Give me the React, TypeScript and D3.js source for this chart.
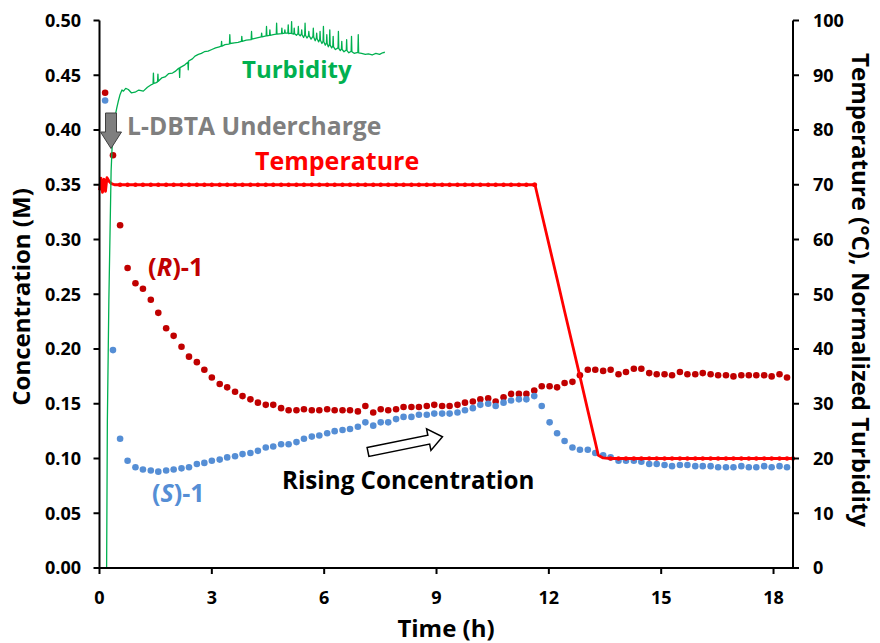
import React from "react";
import * as d3 from "d3";

// ---------- data ----------
const sampleTimes = [
  0.15, 0.36, 0.55, 0.75, 0.96, 1.16, 1.37, 1.57, 1.78, 1.98, 2.19, 2.39, 2.6, 2.8, 3.0, 3.21, 3.41, 3.62,
  3.82, 4.03, 4.23, 4.44, 4.64, 4.85, 5.05, 5.26, 5.46, 5.67, 5.87, 6.08, 6.28, 6.49, 6.69, 6.9, 7.1, 7.31,
  7.51, 7.71, 7.92, 8.12, 8.33, 8.53, 8.74, 8.94, 9.15, 9.35, 9.56, 9.76, 9.97, 10.17, 10.38, 10.58, 10.79,
  10.99, 11.2, 11.4, 11.61, 11.81, 12.02, 12.22, 12.42, 12.63, 12.83, 13.04, 13.24, 13.45, 13.65, 13.86,
  14.06, 14.27, 14.47, 14.68, 14.88, 15.09, 15.29, 15.5, 15.7, 15.91, 16.11, 16.32, 16.52, 16.73, 16.93,
  17.14, 17.34, 17.54, 17.75, 17.95, 18.16, 18.36,
];

const rConc = [
  0.434, 0.377, 0.313, 0.274, 0.26, 0.255, 0.245, 0.233, 0.219, 0.212, 0.202, 0.193, 0.188, 0.181, 0.174,
  0.168, 0.165, 0.161, 0.157, 0.154, 0.151, 0.149, 0.149, 0.146, 0.144, 0.144, 0.145, 0.144, 0.144, 0.145,
  0.144, 0.144, 0.144, 0.143, 0.148, 0.142, 0.145, 0.144, 0.145, 0.147, 0.147, 0.147, 0.148, 0.149, 0.148,
  0.148, 0.149, 0.151, 0.152, 0.154, 0.155, 0.152, 0.156, 0.159, 0.159, 0.159, 0.162, 0.166, 0.166, 0.165,
  0.169, 0.17, 0.176, 0.181, 0.181, 0.18, 0.181, 0.177, 0.179, 0.182, 0.182, 0.178, 0.177, 0.177, 0.176,
  0.179, 0.177, 0.177, 0.178, 0.177, 0.176, 0.176, 0.175, 0.176, 0.176, 0.176, 0.176, 0.175, 0.177, 0.174,
];

const sConc = [
  0.427, 0.199, 0.118, 0.098, 0.092, 0.09, 0.089, 0.088, 0.089, 0.09, 0.091, 0.092, 0.095, 0.096, 0.098,
  0.099, 0.101, 0.102, 0.104, 0.105, 0.107, 0.11, 0.111, 0.113, 0.113, 0.115, 0.118, 0.12, 0.121, 0.123,
  0.125, 0.126, 0.127, 0.129, 0.133, 0.13, 0.133, 0.133, 0.136, 0.138, 0.138, 0.14, 0.14, 0.141, 0.141,
  0.141, 0.142, 0.144, 0.146, 0.149, 0.15, 0.148, 0.151, 0.153, 0.154, 0.154, 0.157, 0.148, 0.133, 0.123,
  0.116, 0.11, 0.108, 0.108, 0.105, 0.103, 0.101, 0.098, 0.098, 0.098, 0.097, 0.095, 0.095, 0.094, 0.093,
  0.094, 0.094, 0.093, 0.093, 0.093, 0.092, 0.092, 0.092, 0.093, 0.092, 0.092, 0.093, 0.092, 0.093, 0.092,
];

const tempTimes = [
  0.0, 0.04, 0.08, 0.12, 0.16, 0.2, 0.26, 0.32, 0.4,
  0.55, 0.75, 0.96, 1.16, 1.37, 1.57, 1.78, 1.98, 2.19, 2.39, 2.6, 2.8, 3.0, 3.21, 3.41, 3.62, 3.82, 4.03,
  4.23, 4.44, 4.64, 4.85, 5.05, 5.26, 5.46, 5.67, 5.87, 6.08, 6.28, 6.49, 6.69, 6.9, 7.1, 7.31, 7.51, 7.71,
  7.92, 8.12, 8.33, 8.53, 8.74, 8.94, 9.15, 9.35, 9.56, 9.76, 9.97, 10.17, 10.38, 10.58, 10.79, 10.99,
  11.2, 11.4, 11.61,
  11.63, 11.81, 12.02, 12.22, 12.42, 12.63, 12.83, 13.04, 13.24, 13.32, 13.45,
  13.65, 13.86, 14.06, 14.27, 14.47, 14.68, 14.88, 15.09, 15.29, 15.5, 15.7, 15.91, 16.11, 16.32, 16.52,
  16.73, 16.93, 17.14, 17.34, 17.54, 17.75, 17.95, 18.16, 18.36, 18.52,
];

const tempValues = [
  69.0, 71.2, 68.6, 71.0, 68.8, 71.3, 70.6, 70.2, 70.0,
  70, 70, 70, 70, 70, 70, 70, 70, 70, 70, 70, 70, 70, 70, 70, 70, 70, 70,
  70, 70, 70, 70, 70, 70, 70, 70, 70, 70, 70, 70, 70, 70, 70, 70, 70, 70,
  70, 70, 70, 70, 70, 70, 70, 70, 70, 70, 70, 70, 70, 70, 70, 70,
  70, 70, 70,
  70, 64.7, 58.6, 52.8, 46.9, 40.8, 35.0, 28.8, 23.0, 20.6, 20.1,
  20, 20, 20, 20, 20, 20, 20, 20, 20, 20, 20, 20, 20, 20, 20,
  20, 20, 20, 20, 20, 20, 20, 20, 20, 20,
];

const turbTimes = [
  0.19, 0.21, 0.25, 0.31, 0.36, 0.41, 0.46, 0.5, 0.55, 0.6, 0.64, 0.7, 0.77, 0.85, 0.95, 1.05, 1.17, 1.28,
  1.39, 1.43, 1.44, 1.45, 1.5, 1.55, 1.56, 1.57, 1.66, 1.75, 1.85, 1.95, 2.02, 2.1, 2.13, 2.14, 2.15, 2.28,
  2.36, 2.37, 2.38, 2.48, 2.55, 2.64, 2.72, 2.8, 2.9, 3.0, 3.1, 3.2, 3.25, 3.26, 3.27, 3.35,
  3.45, 3.47, 3.48, 3.49, 3.6, 3.7, 3.79, 3.8, 3.81, 3.92, 4.05, 4.06, 4.07, 4.18, 4.32, 4.33, 4.34,
  4.45, 4.46, 4.47, 4.54, 4.55, 4.56, 4.64, 4.72, 4.73, 4.74, 4.86, 4.87, 4.88, 4.94, 4.95, 4.96,
  5.03, 5.04, 5.05, 5.12, 5.13, 5.14, 5.19, 5.2, 5.21, 5.26, 5.3, 5.31, 5.32, 5.36, 5.39, 5.4, 5.41,
  5.45, 5.48, 5.49, 5.5, 5.54, 5.58, 5.59, 5.6, 5.65, 5.7, 5.71, 5.72, 5.76, 5.79, 5.8, 5.81, 5.85,
  5.88, 5.89, 5.9, 5.94, 5.97, 5.98, 5.99, 6.03, 6.06, 6.07, 6.08, 6.11, 6.14, 6.15, 6.16, 6.2, 6.23,
  6.24, 6.25, 6.3, 6.37, 6.38, 6.39, 6.43, 6.46, 6.47, 6.48, 6.53, 6.59, 6.6, 6.61, 6.66, 6.72, 6.73,
  6.74, 6.8, 6.9, 6.91, 6.92, 7.0, 7.1, 7.18, 7.28, 7.38, 7.48, 7.56, 7.62,
];

const turbValues = [
  0, 27, 49, 72.5, 80.7, 82.2, 84.0, 85.2, 86.5, 87.3, 87.1, 87.6, 87.4, 86.8, 86.9, 87.3, 87.1, 87.8,
  88.3, 88.4, 90.4, 88.5, 88.6, 88.8, 90.2, 88.9, 89.5, 89.7, 90.3, 90.4, 90.7, 91.2, 91.3, 89.6, 91.4, 91.9,
  92.4, 91.0, 92.6, 93.0, 93.5, 93.8, 94.0, 94.3, 94.4, 94.7, 95.0, 95.2, 95.3, 96.2, 95.3, 95.6,
  95.7, 95.75, 97.4, 95.8, 95.9, 96.0, 96.2, 97.1, 96.2, 96.4, 96.5, 98.0, 96.6, 96.8, 97.0, 97.7, 97.0,
  97.2, 98.9, 97.2, 97.3, 98.3, 97.3, 97.4, 97.5, 99.5, 97.5, 97.6, 98.6, 97.6, 97.7, 98.3, 97.7,
  97.7, 99.2, 97.6, 97.7, 99.8, 97.6, 97.5, 98.6, 97.6, 97.3, 97.6, 98.9, 97.5, 97.2, 97.5, 98.3, 97.4,
  96.9, 97.4, 99.5, 97.3, 96.8, 97.2, 98.0, 97.2, 96.6, 97.1, 98.6, 97.0, 96.3, 96.8, 97.7, 96.7, 96.1,
  96.5, 98.0, 96.4, 95.8, 96.2, 98.9, 96.1, 95.5, 95.9, 97.4, 95.8, 95.2, 95.6, 98.3, 95.5, 95.0, 95.3,
  97.1, 95.2, 94.7, 95.0, 98.0, 94.9, 94.5, 94.8, 96.2, 94.7, 94.3, 94.6, 96.5, 94.5, 94.1, 94.4, 97.1,
  94.3, 94.0, 94.2, 97.4, 94.1, 94.0, 93.8, 93.9, 93.7, 94.0, 93.8, 94.1, 94.2,
];

const xTicks = [0, 3, 6, 9, 12, 15, 18];
const leftTicks = [0, 0.05, 0.1, 0.15, 0.2, 0.25, 0.3, 0.35, 0.4, 0.45, 0.5];
const rightTicks = [0, 10, 20, 30, 40, 50, 60, 70, 80, 90, 100];

// ---------- styles ----------
const FONT = "'Open Sans', 'DejaVu Sans', sans-serif";
const C_R = "#C00000";
const C_S = "#558ED5";
const C_TEMP = "#FF0000";
const C_TURB = "#00B050";

export default function App() {
  const left = 99.5, right = 793, top = 20.5, bottom = 568;
  const x = d3.scaleLinear().domain([0, 18.52]).range([left, right]);
  const yL = d3.scaleLinear().domain([0, 0.5]).range([bottom, top]);
  const yR = d3.scaleLinear().domain([0, 100]).range([bottom, top]);
  const fmt = d3.format(".2f");

  const tempPath = d3
    .line<number>()
    .x((_, i) => x(tempTimes[i]))
    .y((d) => yR(d))(tempValues) as string;
  const turbPath = d3
    .line<number>()
    .x((_, i) => x(turbTimes[i]))
    .y((d) => yR(d))(turbValues) as string;

  // beads only on the flat (held) parts of the temperature record
  const beadIdx = tempValues
    .map((v, i) => i)
    .filter((i) => i > 8 && (tempValues[i] === tempValues[i - 1] || tempValues[i] === tempValues[i + 1]));

  return (
    <svg
      width={880}
      height={643}
      style={{ position: "absolute", left: 0, top: 0, background: "#fff" }}
      fontFamily={FONT}
    >
      <rect width={880} height={643} fill="#fff" />

      {/* concentration dots */}
      {rConc.map((c, i) => (
        <circle key={"r" + i} cx={x(sampleTimes[i])} cy={yL(c)} r={3.3} fill={C_R} />
      ))}
      {sConc.map((c, i) => (
        <circle key={"s" + i} cx={x(sampleTimes[i])} cy={yL(c)} r={3.3} fill={C_S} />
      ))}

      {/* temperature */}
      <path d={tempPath} fill="none" stroke={C_TEMP} strokeWidth={2.8} strokeLinejoin="round" />
      {beadIdx.map((i) => (
        <circle key={"t" + i} cx={x(tempTimes[i])} cy={yR(tempValues[i])} r={2.2} fill={C_TEMP} />
      ))}

      {/* turbidity */}
      <path d={turbPath} fill="none" stroke={C_TURB} strokeWidth={1.3} strokeLinejoin="round" />

      {/* axes */}
      <g stroke="#000" strokeWidth={2}>
        <line x1={left} x2={left} y1={top} y2={bottom} />
        <line x1={right} x2={right} y1={top} y2={bottom} />
        <line x1={left - 1} x2={right + 1} y1={bottom} y2={bottom} />
        {leftTicks.map((t) => (
          <line key={"lt" + t} x1={left - 6} x2={left} y1={yL(t)} y2={yL(t)} />
        ))}
        {rightTicks.map((t) => (
          <line key={"rt" + t} x1={right} x2={right + 6} y1={yR(t)} y2={yR(t)} />
        ))}
        {xTicks.map((t) => (
          <line key={"xt" + t} x1={x(t)} x2={x(t)} y1={bottom} y2={bottom + 6} />
        ))}
      </g>
      <g fontSize={18} fontWeight={700} fill="#000">
        {leftTicks.map((t) => (
          <text key={"ll" + t} x={81} y={yL(t)} dy="0.35em" textAnchor="end">
            {fmt(t)}
          </text>
        ))}
        {rightTicks.map((t) => (
          <text key={"rl" + t} x={813} y={yR(t)} dy="0.35em" textAnchor="start">
            {t}
          </text>
        ))}
        {xTicks.map((t) => (
          <text key={"xl" + t} x={x(t)} y={604} textAnchor="middle">
            {t}
          </text>
        ))}
      </g>

      {/* axis titles */}
      <g fontSize={24} fontWeight={700} fill="#000">
        <text x={446} y={637} textAnchor="middle">Time (h)</text>
        <text transform="translate(30,297) rotate(-90)" textAnchor="middle">Concentration (M)</text>
        <text transform="translate(852,290) rotate(90)" textAnchor="middle">
          Temperature (°C), Normalized Turbidity
        </text>
      </g>

      {/* annotations */}
      <polygon
        points="105.5,113 116.5,113 116.5,132 121.5,132 111,148.5 100.5,132 105.5,132"
        fill="#7F7F7F"
        stroke="#404040"
        strokeWidth={1}
      />
      <g transform="translate(368,452) rotate(-11.5)">
        <polygon
          points="0,-4.5 62,-4.5 62,-11 76,0 62,11 62,4.5 0,4.5"
          fill="#fff"
          stroke="#000"
          strokeWidth={1.5}
        />
      </g>
      <g fontWeight={700}>
        <text x={242} y={78} fontSize={24} fill={C_TURB}>Turbidity</text>
        <text x={127} y={135} fontSize={24.7} fill="#7F7F7F">L-DBTA Undercharge</text>
        <text x={255} y={170} fontSize={25} fill={C_TEMP}>Temperature</text>
        <text x={148} y={275.5} fontSize={25.5} fill={C_R}>
          (<tspan fontStyle="italic">R</tspan>)-1
        </text>
        <text x={152} y={502} fontSize={25} fill={C_S}>
          (<tspan fontStyle="italic">S</tspan>)-1
        </text>
        <text x={282} y={489} fontSize={24.2} fill="#000">Rising Concentration</text>
      </g>
    </svg>
  );
}
